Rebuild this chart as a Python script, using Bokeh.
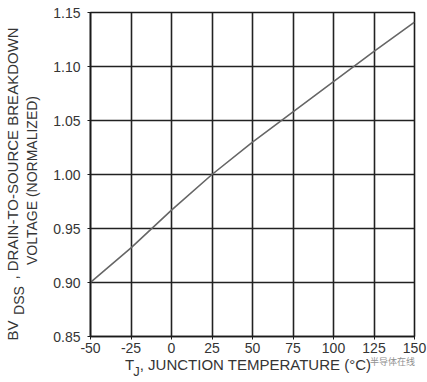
from bokeh.plotting import figure
from bokeh.models import Range1d, FixedTicker, LinearAxis, ColumnDataSource
from bokeh.embed import file_html
from bokeh.resources import INLINE

# ---- data ----
temps = [-50, -25, 0, 25, 50, 75, 100, 125, 150]
bvdss = [0.900, 0.932, 0.967, 1.000, 1.030, 1.058, 1.086, 1.114, 1.141]
x_ticks = [-50, -25, 0, 25, 50, 75, 100, 125, 150]
x_tick_labels = ["-50", "-25", "0", "25", "50", "75", "100", "125", "150"]
y_ticks = [0.85, 0.90, 0.95, 1.00, 1.05, 1.10, 1.15]
y_tick_labels = ["0.85", "0.90", "0.95", "1.00", "1.05", "1.10", "1.15"]
y_title_1 = ["BV", ", DRAIN-TO-SOURCE BREAKDOWN"]
y_title_sub = "DSS"
y_title_2 = "VOLTAGE (NORMALIZED)"
x_title_main = ["T", ", JUNCTION TEMPERATURE (°C)"]
x_title_sub = "J"
watermark = "半导体在线"

FONT = "Liberation Sans"
TXT = "#353535"

W, H = 427, 382
LEFT, RIGHT, TOP, BOTTOM = 90, 13, 12, 46
FW, FH = W - LEFT - RIGHT, H - TOP - BOTTOM
X0, X1 = -50, 150
Y0, Y1 = 0.85, 1.15

p = figure(width=W, height=H, output_backend="svg", toolbar_location=None,
           x_range=Range1d(X0, X1), y_range=Range1d(Y0, Y1),
           min_border_left=LEFT, min_border_right=RIGHT,
           min_border_top=TOP, min_border_bottom=BOTTOM)

p.outline_line_color = "#1a1a1a"
p.outline_line_width = 1.6
p.background_fill_color = "white"
p.border_fill_color = "white"

for ax in (p.xaxis[0], p.yaxis[0]):
    ax.axis_line_color = "#1a1a1a"
    ax.axis_line_width = 1.6
    ax.major_tick_out = 3
    ax.major_tick_in = 0
    ax.minor_tick_out = 0
    ax.major_tick_line_color = "#1a1a1a"
    ax.minor_tick_line_color = None
    ax.major_label_text_font = FONT
    ax.major_label_text_font_size = "14px"
    ax.major_label_text_color = TXT

p.xaxis.ticker = FixedTicker(ticks=x_ticks, minor_ticks=[])
p.yaxis.ticker = FixedTicker(ticks=y_ticks, minor_ticks=[])
p.xaxis.major_label_overrides = dict(zip(x_ticks, x_tick_labels))
p.yaxis.major_label_overrides = dict(zip(y_ticks, y_tick_labels))
p.xaxis.major_label_standoff = 3
p.yaxis.major_label_standoff = 7

p.grid.grid_line_color = "#222222"
p.grid.grid_line_width = 1.6
p.grid.grid_line_alpha = 1.0

src = ColumnDataSource(dict(t=temps, v=bvdss))
p.line("t", "v", source=src, line_color="#666666", line_width=1.6)


# pixel -> data helpers (used only to place title pieces along the axes)
def dx(px):
    return X0 + (px - LEFT) * (X1 - X0) / FW


def dy(py):
    return Y0 + (TOP + FH - py) * (Y1 - Y0) / FH


def text_axis(side, ticks, labels, size, standoff, color=TXT, font=FONT):
    ax = LinearAxis(ticker=FixedTicker(ticks=ticks, minor_ticks=[]),
                    major_label_overrides=dict(zip(ticks, labels)),
                    axis_line_color=None, major_tick_line_color=None,
                    minor_tick_line_color=None, major_tick_in=0, major_tick_out=0,
                    minor_tick_in=0, minor_tick_out=0,
                    major_label_text_font=font, major_label_text_font_size=size,
                    major_label_text_color=color, major_label_standoff=standoff)
    if side == "left":
        ax.major_label_orientation = "vertical"
    p.add_layout(ax, side)
    return ax


# y title pieces (stacked outward from the y axis)
text_axis("left", [dy(180)], [y_title_2], "14px", 11)
text_axis("left", [dy(300)], [y_title_sub], "14px", -6)
text_axis("left", [dy(330), dy(153)], y_title_1, "15px", -13)

# x title pieces (stacked downward from the x axis)
text_axis("below", [dx(392)], [watermark], "9px", -1, color="#909090", font="Noto Sans CJK SC")
text_axis("below", [dx(129), dx(255)], x_title_main, "15px", -15)
text_axis("below", [dx(136)], [x_title_sub], "13px", -12)

open("out.html", "w").write(file_html(p, INLINE))
